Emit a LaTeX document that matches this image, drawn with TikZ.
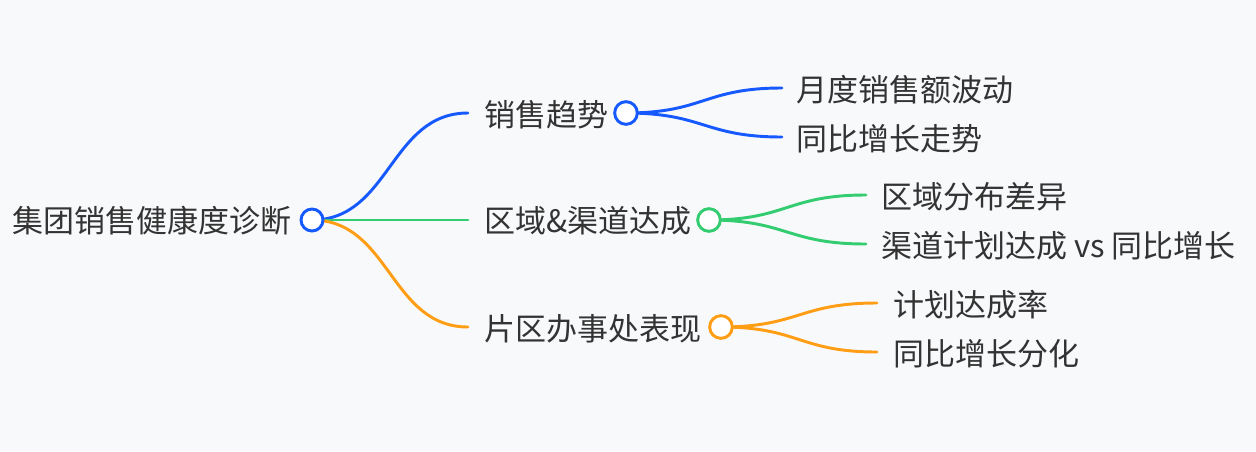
\documentclass[tikz,border=0pt]{standalone}
\usepackage{fontspec}
\setmainfont{Noto Sans CJK SC}
\definecolor{bg}{HTML}{F8F9FB}
\definecolor{txt}{HTML}{333333}
\definecolor{cblue}{HTML}{1559FF}
\definecolor{cgreen}{HTML}{33CC70}
\definecolor{corange}{HTML}{FF9E14}
\tikzset{
  lbl/.style={anchor=base west, inner sep=0pt, text=txt, font=\fontsize{23.25pt}{28pt}\selectfont},
  dot/.style={circle, draw=#1, fill=white, line width=2.2pt, minimum size=17pt, inner sep=0pt},
  rootdot/.style={circle, draw=cblue, fill=white, line width=2.2pt, minimum size=16.5pt, inner sep=0pt},
  link/.style={draw=#1, line width=2.2pt, line cap=round},
  endpt/.style={coordinate}
}
\begin{document}
\begin{tikzpicture}[x=0.75pt, y=-0.75pt]
\fill[bg] (0,0) rectangle (1256,451);
\useasboundingbox (0,0) rectangle (1256,451);

% anchors
\coordinate (rc) at (312,220);
\coordinate (e1) at (468,113);
\coordinate (e2) at (468,220);
\coordinate (e3) at (468,327);
\coordinate (c1) at (626,113);
\coordinate (c2) at (709,220);
\coordinate (c3) at (721,327);
\coordinate (s11) at (782,88);
\coordinate (s12) at (782,137);
\coordinate (s21) at (866,195);
\coordinate (s22) at (866,244);
\coordinate (s31) at (877,303);
\coordinate (s32) at (877,352);

% root links
\draw[link=cblue] (rc) .. controls (390,220) and (390,113) .. (e1);
\draw[link=cgreen] (rc) -- (e2);
\draw[link=corange] (rc) .. controls (390,220) and (390,327) .. (e3);

% sub links
\draw[link=cblue] (c1) .. controls (704,113) and (704,88) .. (s11);
\draw[link=cblue] (c1) .. controls (704,113) and (704,137) .. (s12);
\draw[link=cgreen] (c2) .. controls (787,220) and (787,195) .. (s21);
\draw[link=cgreen] (c2) .. controls (787,220) and (787,244) .. (s22);
\draw[link=corange] (c3) .. controls (799,327) and (799,303) .. (s31);
\draw[link=corange] (c3) .. controls (799,327) and (799,352) .. (s32);

% circles
\node[rootdot] (root) at (rc) {};
\node[dot=cblue] (n1) at (c1) {};
\node[dot=cgreen] (n2) at (c2) {};
\node[dot=corange] (n3) at (c3) {};

% texts
\node[lbl] (troot) at (12,232) {集团销售健康度诊断};
\node[lbl] (t1) at (484,126) {销售趋势};
\node[lbl] (t2) at (484,232) {区域\&渠道达成};
\node[lbl] (t3) at (484,340) {片区办事处表现};
\node[lbl] (t11) at (796,101) {月度销售额波动};
\node[lbl] (t12) at (796,150) {同比增长走势};
\node[lbl] (t21) at (881,208) {区域分布差异};
\node[lbl] (t22) at (881,257) {渠道计划达成 vs 同比增长};
\node[lbl] (t31) at (893,316) {计划达成率};
\node[lbl] (t32) at (893,365) {同比增长分化};
\end{tikzpicture}
\end{document}
